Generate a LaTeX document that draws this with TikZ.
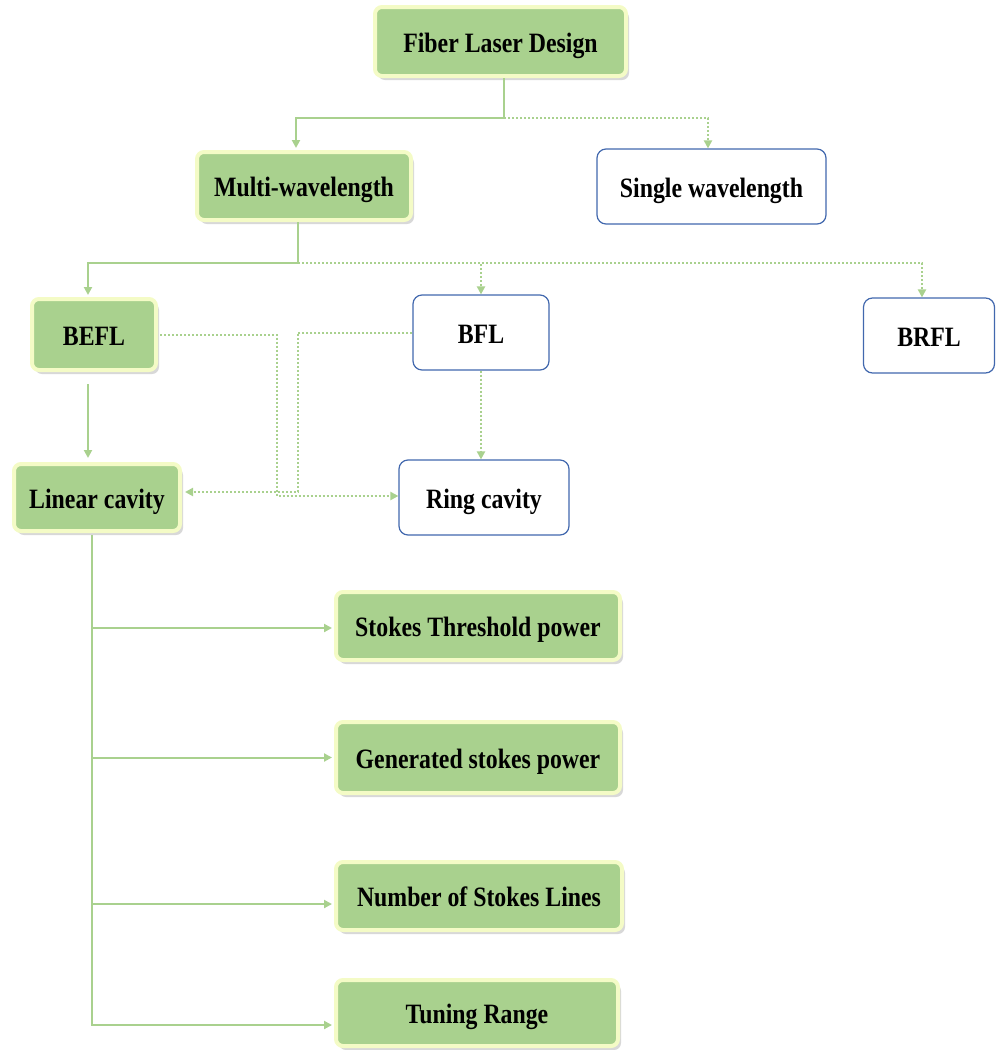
\documentclass[tikz,border=0pt]{standalone}
\usepackage{fontspec}
\newfontfamily\boxfont{Liberation Serif}[FakeStretch=0.85]
\usetikzlibrary{arrows.meta,shadows,calc}

\definecolor{leaf}{HTML}{A9D18E}
\definecolor{glow}{HTML}{F4FBC6}
\definecolor{edge}{HTML}{4268AE}
\definecolor{wire}{HTML}{A9D18E}

\tikzset{
  label text/.style={font=\boxfont\bfseries\fontsize{28}{32}\selectfont, text=black, align=center,
    text height=21pt, text depth=0pt},
  greenbox/.style={label text, draw=glow, line width=4pt, fill=leaf, rounded corners=7pt,
    drop shadow={shadow xshift=3pt, shadow yshift=-4pt, opacity=0.22, fill=black!70},
    inner sep=0pt},
  whitebox/.style={label text, draw=edge, line width=1.2pt, fill=white, rounded corners=9pt,
    inner sep=0pt},
  tip/.style={-{Triangle[length=8pt,width=8pt]}},
  link/.style={draw=wire, line width=2pt},
  dotlink/.style={draw=wire, line width=2pt, dash pattern=on 2pt off 2pt},
}

\begin{document}
\begin{tikzpicture}[x=1pt, y=-1pt]
  \useasboundingbox (0,0) rectangle (996,1050);

  % boxes
  \node[greenbox, minimum width=251pt, minimum height=69pt] (top)    at (500.5,41.5) {Fiber Laser Design};
  \node[greenbox, minimum width=214pt, minimum height=68pt] (multi)  at (304,186)    {Multi-wavelength};
  \node[whitebox, minimum width=229pt, minimum height=75pt] (single) at (711.5,186.5) {Single wavelength};
  \node[greenbox, minimum width=124pt, minimum height=71pt] (befl)   at (94,334.5)   {BEFL};
  \node[whitebox, minimum width=136pt, minimum height=75pt] (bfl)    at (481,332.5)  {BFL};
  \node[whitebox, minimum width=131pt, minimum height=75pt] (brfl)   at (929,335.5)  {BRFL};
  \node[greenbox, minimum width=166pt, minimum height=67pt] (linear) at (97,497.5)   {Linear cavity};
  \node[whitebox, minimum width=170pt, minimum height=75pt] (ring)   at (484,497.5)  {Ring cavity};
  \node[greenbox, minimum width=284pt, minimum height=68pt] (stokes) at (478,626)    {Stokes Threshold power};
  \node[greenbox, minimum width=284pt, minimum height=71pt] (gen)    at (478,757.5)  {Generated stokes power};
  \node[greenbox, minimum width=286pt, minimum height=68pt] (num)    at (479,896)    {Number of Stokes Lines};
  \node[greenbox, minimum width=282pt, minimum height=66pt] (tune)   at (477,1013)   {Tuning Range};

  % junctions
  \coordinate (j1) at ([xshift=3.5pt]top.south |- 0,118);
  \coordinate (j2) at ([xshift=-6pt]multi.south |- 0,263);

  % level 1
  \draw[link] ([xshift=3.5pt]top.south) -- (j1);
  \draw[link, tip, shorten >=2pt] (j1) -| ([xshift=-8pt]multi.north);
  \draw[dotlink, tip] (j1) -| ([xshift=-3.5pt]single.north);

  % level 2
  \draw[link] ([xshift=-6pt]multi.south) -- (j2);
  \draw[link, tip, shorten >=2pt] (j2) -| ([xshift=-6pt]befl.north);
  \draw[dotlink, tip] (j2) -| (bfl.north);
  \draw[dotlink, tip] (j2) -| ([xshift=-7pt]brfl.north);

  % cavities
  \draw[link, tip, shorten <=12pt, shorten >=4pt] ([xshift=-6pt]befl.south) -- ([xshift=-6pt]befl.south |- linear.north);
  \draw[dotlink, tip] (bfl.south) -- (bfl.south |- ring.north);

  \coordinate (xa) at (277,496);
  \coordinate (xb) at (298,492);
  \draw[dotlink, tip] ([xshift=2pt]befl.east) -| (xa) -- (xa -| ring.west);
  \draw[dotlink, tip, shorten >=3pt] (bfl.west) -| (xb) -- (xb -| linear.east);

  % parameters
  \coordinate (trunk) at ([xshift=-5pt]linear.south);
  \coordinate (b1) at ([yshift=-2pt]stokes.west);
  \coordinate (b2) at (gen.west);
  \coordinate (b3) at ([yshift=-8pt]num.west);
  \coordinate (b4) at ([yshift=-12pt]tune.west);
  \draw[link, tip, shorten >=2pt] ([yshift=-2pt]trunk) |- (b4);
  \draw[link, tip, shorten >=2pt] (trunk |- b1) -- (b1);
  \draw[link, tip, shorten >=2pt] (trunk |- b2) -- (b2);
  \draw[link, tip, shorten >=2pt] (trunk |- b3) -- (b3);
\end{tikzpicture}
\end{document}
